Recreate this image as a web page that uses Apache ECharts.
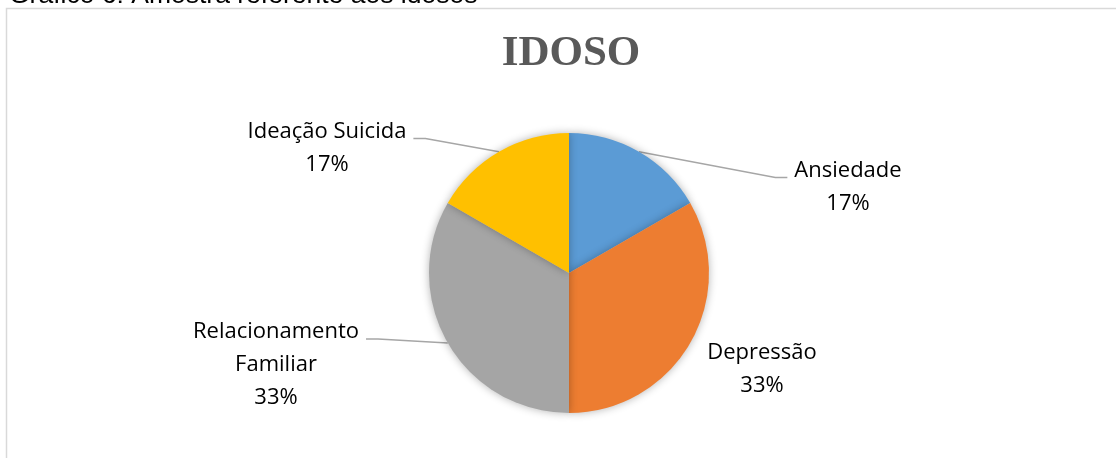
<!DOCTYPE html>
<html>
	<head>
		<meta charset="utf-8" />
		<script src="https://cdn.jsdelivr.net/npm/echarts@6/dist/echarts.min.js"></script>
		<title>IDOSO</title>
		<style>
			* {
				margin: 0;
				padding: 0;
			}
			body {
				background: #ffffff;
			}
			div#chart {
				width: 1116px;
				height: 458px;
			}
		</style>
	</head>
	<body>
		<div id="chart"></div>
		<script>
			// dados
			var categorias = ['Ansiedade', 'Depressão', 'Relacionamento Familiar', 'Ideação Suicida'];
			var valores = [1, 2, 2, 1];
			var cores = ['#5b9bd5', '#ed7d31', '#a5a5a5', '#ffc000'];

			// onde o Excel colocou cada rótulo (centro do bloco de texto)
			var posRotulos = [[848, 187], [762, 369], [276, 365], [327, 148]];
			var ALTURA_LINHA = 33;

			var chart = echarts.init(document.getElementById('chart'));

			var dados = categorias.map(function (c, i) {
				var item = { name: c, value: valores[i], itemStyle: { color: cores[i] } };
				if (i === 1) {
					item.labelLine = { show: false };
				}
				return item;
			});

			chart.setOption({
				animation: false,
				title: {
					text: 'IDOSO',
					left: 566,
					top: 27,
					textAlign: 'center',
					textStyle: {
						color: '#595959',
						fontSize: 43,
						fontWeight: 'bold',
						fontFamily: 'Liberation Serif'
					}
				},
				graphic: [
					{
						type: 'rect',
						shape: { x: 6.5, y: 8.5, width: 1130, height: 470 },
						style: { fill: 'none', stroke: '#d9d9d9', lineWidth: 1.5 },
						silent: true
					},
					{
						type: 'text',
						left: 9,
						top: -18,
						style: {
							text: 'Gráfico 6: Amostra referente aos idosos',
							fill: '#000000',
							font: '26.5px "Liberation Sans"'
						},
						silent: true
					}
				],
				series: [{
					type: 'pie',
					center: [569, 273],
					radius: 140,
					startAngle: 90,
					clockwise: true,
					percentPrecision: 0,
					data: dados,
					itemStyle: {
						shadowBlur: 9,
						shadowColor: 'rgba(0,0,0,0.3)'
					},
					label: {
						show: true,
						position: 'outside',
						color: '#000000',
						fontFamily: 'Open Sans',
						fontSize: 22,
						lineHeight: ALTURA_LINHA,
						align: 'center',
						formatter: function (p) {
							var nome = p.name.length > 16 ? p.name.replace(' ', '\n') : p.name;
							return nome + '\n' + p.percent + '%';
						}
					},
					labelLine: {
						show: true,
						length: 20,
						length2: 12,
						lineStyle: { color: '#a6a6a6', width: 1.3 }
					},
					labelLayout: function (p) {
						var pos = posRotulos[p.dataIndex];
						var r = p.labelRect;
						var out = { x: pos[0], y: pos[1], align: 'center', verticalAlign: 'middle' };
						var ini = p.labelLinePoints && p.labelLinePoints[0];
						if (ini) {
							// a linha guia chega à primeira linha do texto, como no Excel
							var dir = ini[0] > pos[0] ? 1 : -1;
							var borda = pos[0] + dir * (r.width / 2 + 7);
							var y = pos[1] - r.height / 2 + ALTURA_LINHA / 2 + 7;
							out.labelLinePoints = [ini, [borda + dir * 12, y], [borda, y]];
						}
						return out;
					}
				}]
			});
		</script>
	</body>
</html>
